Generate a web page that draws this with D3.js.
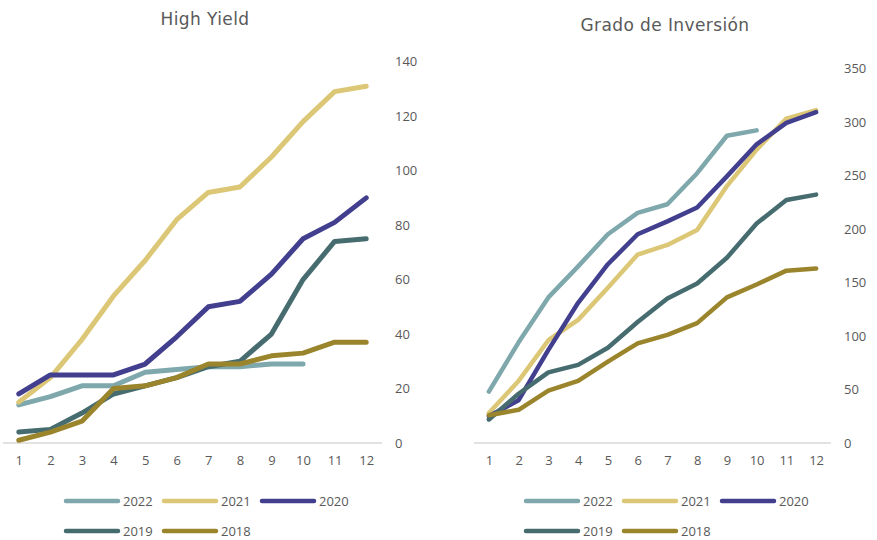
<!DOCTYPE html>
<html>
<head>
<meta charset="utf-8">
<script src="https://cdn.jsdelivr.net/npm/d3@7"></script>
<style>
  html, body { margin: 0; padding: 0; background: #ffffff; }
  svg { display: block; }
</style>
</head>
<body>
<svg id="chart" width="877" height="540"></svg>
<script>
// Months on the x axis
const months = [1, 2, 3, 4, 5, 6, 7, 8, 9, 10, 11, 12];
const years = ["2022", "2021", "2020", "2019", "2018"];
const yearColors = ["#7fa8ad", "#dcc776", "#433f8f", "#476c6f", "#9b852c"];

// High Yield: cumulative values per year
const hy2022 = [14, 17, 21, 21, 26, 27, 28, 28, 29, 29];
const hy2021 = [15, 24, 38, 54, 67, 82, 92, 94, 105, 118, 129, 131];
const hy2020 = [18, 25, 25, 25, 29, 39, 50, 52, 62, 75, 81, 90];
const hy2019 = [4, 5, 11, 18, 21, 24, 28, 30, 40, 60, 74, 75];
const hy2018 = [1, 4, 8, 20, 21, 24, 29, 29, 32, 33, 37, 37];
const hyTicks = [0, 20, 40, 60, 80, 100, 120, 140];

// Grado de Inversión: cumulative values per year
const ig2022 = [48, 94, 136, 165, 195, 215, 223, 252, 287, 292];
const ig2021 = [28, 58, 96, 115, 145, 176, 185, 199, 240, 274, 303, 311];
const ig2020 = [25, 40, 87, 131, 167, 195, 207, 220, 249, 279, 299, 309];
const ig2019 = [22, 46, 66, 73, 89, 113, 135, 149, 173, 205, 227, 232];
const ig2018 = [26, 31, 49, 58, 76, 93, 101, 112, 136, 148, 161, 163];
const igTicks = [0, 50, 100, 150, 200, 250, 300, 350];

const svg = d3.select("#chart");
const textColor = "#595959";
const tickFont = "'Open Sans', 'DejaVu Sans', sans-serif";

function panel(opts) {
  const g = svg.append("g");
  const x = d3.scalePoint().domain(months).range([opts.x0, opts.x1]).padding(0.5);
  const y = d3.scaleLinear().domain([0, opts.yMax]).range([443, opts.yTop]);

  // title
  g.append("text")
    .attr("x", opts.titleX).attr("y", opts.titleY)
    .attr("text-anchor", "middle")
    .style("font-family", "'DejaVu Sans', Verdana, sans-serif")
    .style("font-size", "17px")
    .style("letter-spacing", "0.4px")
    .style("fill", textColor)
    .text(opts.title);

  // baseline
  g.append("line")
    .attr("x1", opts.x0).attr("x2", opts.x1)
    .attr("y1", y(0)).attr("y2", y(0))
    .attr("stroke", "#d9d9d9").attr("stroke-width", 1.5);

  // y axis on the right
  const ya = g.append("g")
    .attr("transform", `translate(${opts.yLabelX},0)`)
    .call(d3.axisRight(y).tickValues(opts.ticks).tickSize(0).tickPadding(0));
  ya.select(".domain").remove();
  ya.selectAll("text")
    .style("font-family", tickFont).style("font-size", "13px")
    .style("fill", textColor).attr("text-anchor", "start");

  // x axis labels
  const xa = g.append("g")
    .attr("transform", `translate(0,${y(0)})`)
    .call(d3.axisBottom(x).tickSize(0).tickPadding(13));
  xa.select(".domain").remove();
  xa.selectAll("text")
    .style("font-family", tickFont).style("font-size", "13px")
    .style("fill", textColor);

  // series lines
  const line = d3.line()
    .x((d, i) => x(months[i]))
    .y(d => y(d));
  opts.series.forEach((vals, k) => {
    g.append("path")
      .datum(vals)
      .attr("d", line)
      .attr("fill", "none")
      .attr("stroke", yearColors[k])
      .attr("stroke-width", opts.lw)
      .attr("stroke-linejoin", "round")
      .attr("stroke-linecap", "round");
  });

  // legend: three items on the first row, two on the second
  const lg = g.append("g");
  years.forEach((yr, k) => {
    const col = k % 3, row = Math.floor(k / 3);
    const lx = opts.legendX + col * 98;
    const ly = 501 + row * 30;
    lg.append("line")
      .attr("x1", lx).attr("x2", lx + 52)
      .attr("y1", ly).attr("y2", ly)
      .attr("stroke", yearColors[k])
      .attr("stroke-width", 4.5)
      .attr("stroke-linecap", "round");
    lg.append("text")
      .attr("x", lx + 57).attr("y", ly)
      .attr("dominant-baseline", "central")
      .style("font-family", tickFont).style("font-size", "13px")
      .style("fill", textColor)
      .text(yr);
  });
}

panel({
  title: "High Yield", titleX: 205, titleY: 25,
  x0: 3, x1: 382, yMax: 140, yTop: 61.7, ticks: hyTicks, yLabelX: 395,
  series: [hy2022, hy2021, hy2020, hy2019, hy2018], lw: 5, legendX: 66
});

panel({
  title: "Grado de Inversión", titleX: 665, titleY: 31,
  x0: 474, x1: 831, yMax: 350, yTop: 68.3, ticks: igTicks, yLabelX: 844,
  series: [ig2022, ig2021, ig2020, ig2019, ig2018], lw: 4.5, legendX: 526
});
</script>
</body>
</html>
